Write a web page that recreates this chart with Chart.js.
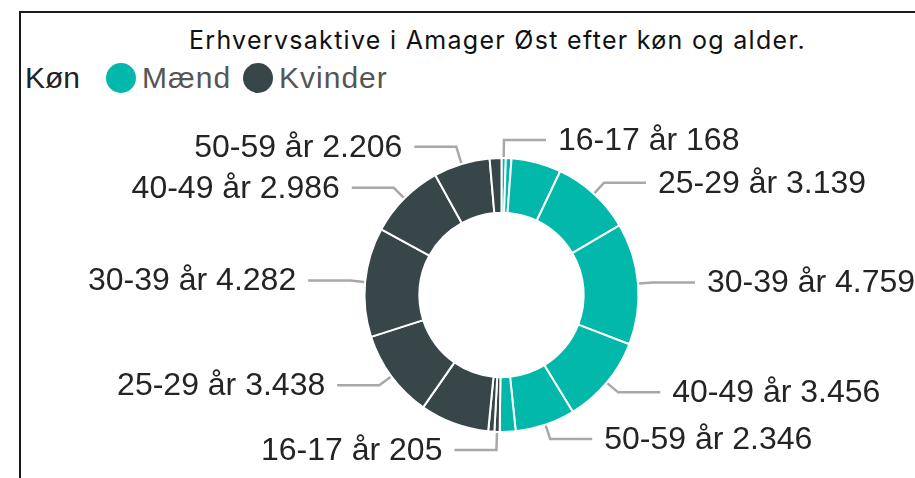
<!DOCTYPE html>
<html>
<head>
<meta charset="utf-8">
<script src="https://cdn.jsdelivr.net/npm/chart.js@4.4.1/dist/chart.umd.min.js"></script>
<style>
  html, body { margin: 0; padding: 0; background: #fff; }
  body { width: 915px; height: 478px; position: relative; overflow: hidden; }
  #frame { position: absolute; left: 19px; top: 11px; width: 1000px; height: 1000px;
           border-left: 2px solid #1a1a1a; border-top: 2px solid #1a1a1a; }
  #title { position: absolute; left: 0; top: 28px; width: 995px; text-align: center;
           font: 25px Inter, 'Open Sans', sans-serif; line-height: 24px; letter-spacing: 1.3px; color: #111; }
  #legend { position: absolute; left: 25px; top: 63px; display: flex; align-items: center;
            font: 30px 'Liberation Sans', Arial, sans-serif; line-height: 30px; }
  #legend .ttl { color: #222; margin-right: 26px; }
  #legend .dot { width: 30px; height: 30px; border-radius: 50%; display: inline-block; margin-right: 6px; }
  #legend .itm { color: #555; margin-right: 12px; letter-spacing: 1px; }
  #c { position: absolute; left: 0; top: 0; }
</style>
</head>
<body>
<div id="frame"></div>
<div id="title">Erhvervsaktive i Amager Øst efter køn og alder.</div>
<div id="legend"></div>
<canvas id="c" width="915" height="478"></canvas>
<script>
// aldersgrupper og antal erhvervsaktive pr. køn
const ageGroups = ['16-17 år', '18-19 år', '20-24 år', '25-29 år', '30-39 år', '40-49 år', '50-59 år', '60-64 år'];
const maend = [168, 220, 1950, 3139, 4759, 3456, 2346, 620];
const kvinder = [205, 240, 2700, 3438, 4282, 2986, 2206, 460];
const genders = ['Mænd', 'Kvinder'];
const genderColors = ['#01B8AA', '#374649'];
// labels som Power BI skjuler (for lidt plads)
const hiddenAges = ['18-19 år', '20-24 år', '60-64 år'];

const fmt = v => String(v).replace(/\B(?=(\d{3})+(?!\d))/g, '.');

// legend i html
const lg = document.getElementById('legend');
let h = '<span class="ttl">Køn</span>';
genders.forEach((g, i) => {
  h += '<span class="dot" style="background:' + genderColors[i] + '"></span><span class="itm">' + g + '</span>';
});
lg.innerHTML = h;

const values = maend.concat(kvinder);
const sliceAges = ageGroups.concat(ageGroups);
const sliceColors = ageGroups.map(() => genderColors[0]).concat(ageGroups.map(() => genderColors[1]));

// tegner labels med knæk-linje ud fra hver bue
const leaderLabels = {
  id: 'leaderLabels',
  afterDatasetsDraw(chart) {
    const ctx = chart.ctx;
    const arcs = chart.getDatasetMeta(0).data;
    ctx.save();
    ctx.font = '32px "Liberation Sans", Arial, sans-serif';
    ctx.textBaseline = 'middle';
    arcs.forEach((arc, i) => {
      if (hiddenAges.includes(sliceAges[i])) return;
      const p = arc.getProps(['x', 'y', 'startAngle', 'endAngle', 'outerRadius'], true);
      const mid = (p.startAngle + p.endAngle) / 2;
      const cos = Math.cos(mid), sin = Math.sin(mid);
      const right = cos >= 0;
      const ext = Math.abs(sin) > 0.95 ? 18 : 15;
      const x0 = p.x + cos * (p.outerRadius + 1), y0 = p.y + sin * (p.outerRadius + 1);
      const x1 = p.x + cos * (p.outerRadius + ext), y1 = p.y + sin * (p.outerRadius + ext);
      const x2 = x1 + (right ? 42 : -42);
      ctx.strokeStyle = '#A8A8A8';
      ctx.lineWidth = 2.5;
      ctx.beginPath();
      ctx.moveTo(x0, y0); ctx.lineTo(x1, y1); ctx.lineTo(x2, y1);
      ctx.stroke();
      ctx.fillStyle = '#252423';
      ctx.textAlign = right ? 'left' : 'right';
      ctx.fillText(sliceAges[i] + ' ' + fmt(values[i]), x2 + (right ? 12 : -12), y1 + 1);
    });
    ctx.restore();
  }
};

new Chart(document.getElementById('c'), {
  type: 'doughnut',
  data: {
    labels: sliceAges,
    datasets: [{ data: values, backgroundColor: sliceColors, borderColor: '#fff', borderWidth: 2, hoverOffset: 0 }]
  },
  options: {
    responsive: false, devicePixelRatio: 1, animation: false, cutout: '60%',
    layout: { padding: { left: 363.5, top: 157, right: 275.5, bottom: 45 } },
    plugins: { legend: { display: false }, tooltip: { enabled: false } },
    events: []
  },
  plugins: [leaderLabels]
});
</script>
</body>
</html>
